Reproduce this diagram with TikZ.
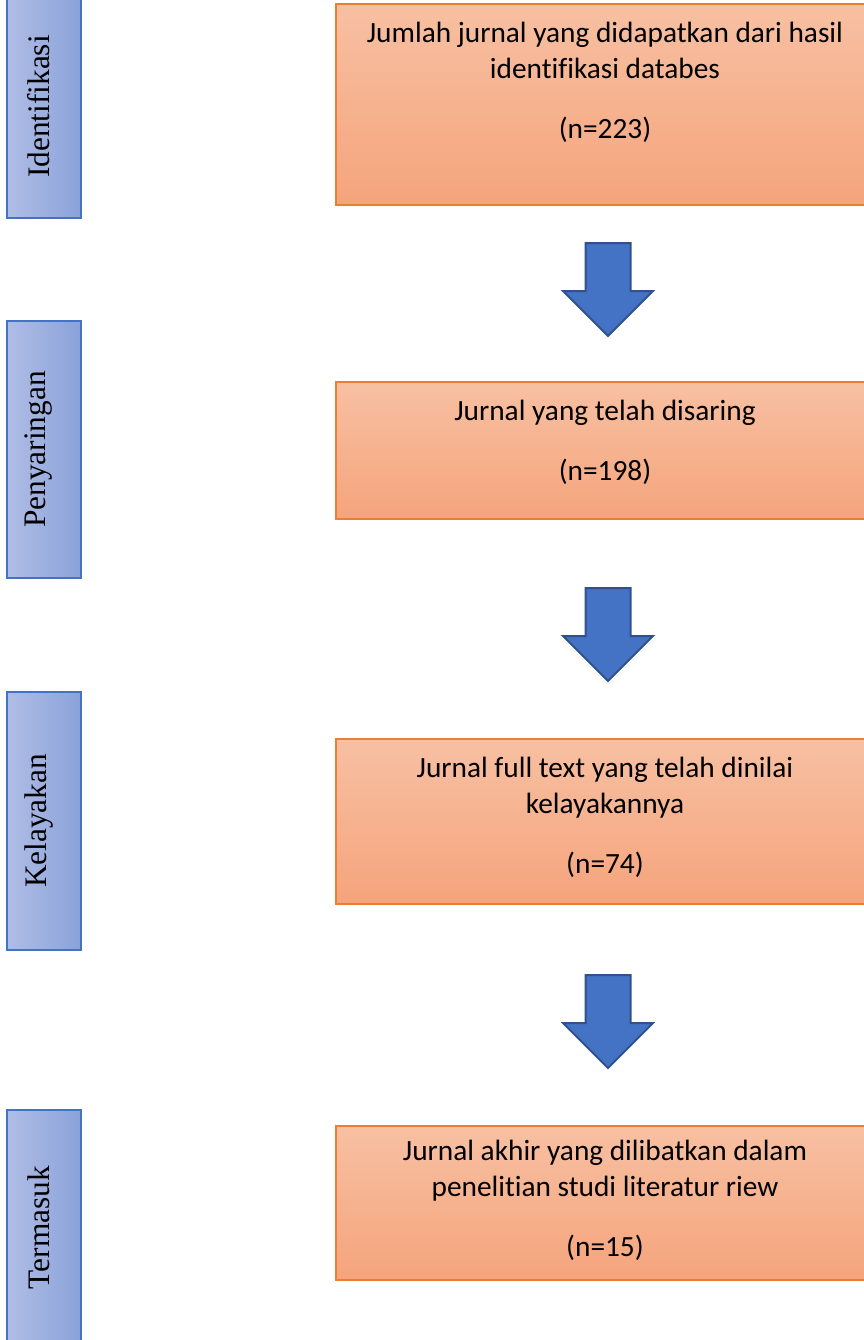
\documentclass[tikz,border=0pt]{standalone}
\usepackage{fontspec}
\setmainfont{Carlito}[Ligatures=NoCommon]
\newfontfamily\stagefont{Liberation Serif}
\usetikzlibrary{positioning}
\definecolor{boxTop}{HTML}{F7C0A2}
\definecolor{boxBot}{HTML}{F5A47C}
\definecolor{boxLine}{HTML}{ED7D31}
\definecolor{barLeft}{HTML}{B0BDE5}
\definecolor{barRight}{HTML}{8AA2DA}
\definecolor{barLine}{HTML}{4472C4}
\definecolor{arrFill}{HTML}{4472C4}
\definecolor{arrLine}{HTML}{2F528F}
\tikzset{
  result/.style={draw=boxLine, line width=1.5pt, top color=boxTop, bottom color=boxBot,
                 minimum width=538*0.75pt, inner sep=0pt},
  resulttxt/.style={font=\fontsize{22}{27}\selectfont, align=center, inner sep=0pt},
  stagebar/.style={draw=barLine, line width=1pt, left color=barLeft, right color=barRight,
                   minimum width=74*0.75pt, inner sep=0pt},
  stagetxt/.style={font=\stagefont\fontsize{23.5}{28}\selectfont, rotate=90, inner sep=0pt},
  pics/downarrow/.style={code={
    \draw[fill=arrFill, draw=arrLine, line width=1.5pt, line join=miter]
      (-22.5,0) -- (22.5,0) -- (22.5,48) -- (45,48) -- (0,93) -- (-45,48) -- (-22.5,48) -- cycle;
  }}
}

\begin{document}
\begin{tikzpicture}[x=0.75pt, y=-0.75pt]
  \useasboundingbox (0,0) rectangle (864,1340);
  \clip (0,0) rectangle (864,1340);

  % left stage bars
  \node[stagebar, minimum height=223*0.75pt] (s1) at (44,106.5) {};
  \node[stagebar, minimum height=257*0.75pt] (s2) at (44,449.5) {};
  \node[stagebar, minimum height=258*0.75pt] (s3) at (44,821) {};
  \node[stagebar, minimum height=235*0.75pt] (s4) at (44,1227.5) {};
  \node[stagetxt] (s1t) at ([xshift=-5*0.75pt]s1) {Identifikasi};
  \node[stagetxt] (s2t) at ([xshift=-5*0.75pt]s2) {Penyaringan};
  \node[stagetxt] (s3t) at ([xshift=-5*0.75pt]s3) {Kelayakan};
  \node[stagetxt] (s4t) at ([xshift=-5*0.75pt]s4) {Termasuk};

  % result boxes
  \node[result, minimum height=201*0.75pt] (b1) at (605,104.5) {};
  \node[result, minimum height=137*0.75pt] (b2) at (605,450.5) {};
  \node[result, minimum height=165*0.75pt] (b3) at (605,821.5) {};
  \node[result, minimum height=154*0.75pt] (b4) at (605,1203) {};

  \node[resulttxt, below=14pt of b1.north] (t1) {Jumlah jurnal yang didapatkan dari hasil\\
    identifikasi databes\\[18pt] (n=223)};
  \node[resulttxt, below=14pt of b2.north] (t2) {Jurnal yang telah disaring\\[18pt] (n=198)};
  \node[resulttxt, below=14pt of b3.north] (t3) {Jurnal full text yang telah dinilai\\
    kelayakannya\\[18pt] (n=74)};
  \node[resulttxt, below=11pt of b4.north] (t4) {Jurnal akhir yang dilibatkan dalam\\
    penelitian studi literatur riew\\[18pt] (n=15)};

  % block arrows between boxes
  \pic (a1) at (608,243) {downarrow};
  \pic (a2) at (608,588) {downarrow};
  \pic (a3) at (608,975) {downarrow};
\end{tikzpicture}
\end{document}
